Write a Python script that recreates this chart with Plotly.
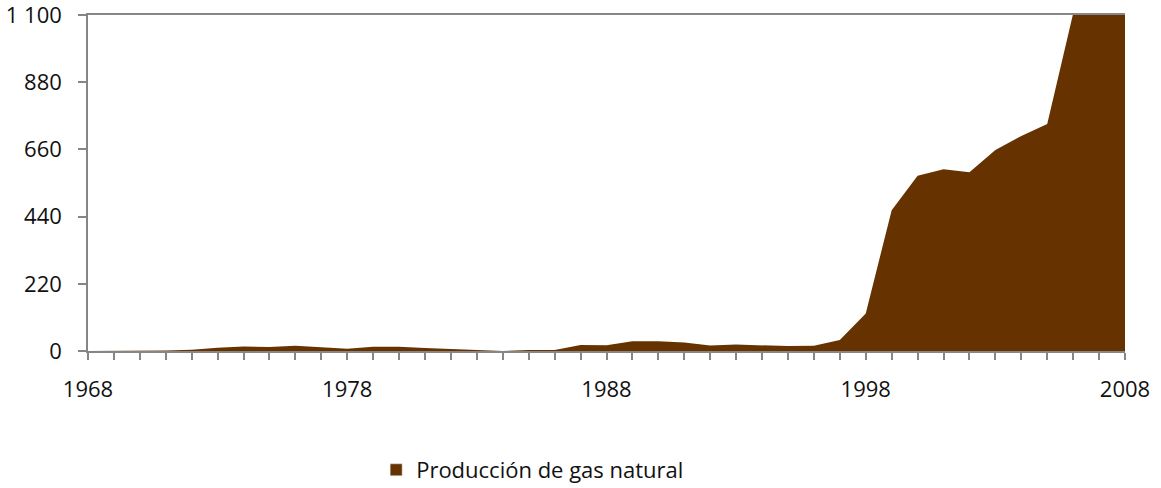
import plotly.graph_objects as go

# production de gas natural, annual values
years = list(range(1968, 2009))
produccion = [
    0, 0, 0, 2, 4, 11, 15, 13, 17, 13,      # 1968-1977
    7, 14, 14, 10, 7, 5, 0, 3, 3, 20,       # 1978-1987
    19, 32, 32, 28, 18, 21, 18, 16, 17, 36, # 1988-1997
    123, 461, 574, 595, 585, 658, 704, 743, # 1998-2005
    1105, 1190, 1230,                       # 2006-2008 (clipped at top)
]

y_ticks = [0, 220, 440, 660, 880, 1100]
y_labels = ["0", "220", "440", "660", "880", "1 100"]
x_ticks = [1968, 1978, 1988, 1998, 2008]

brown = "#663300"
grey = "#868686"
font = dict(family="Open Sans", size=22, color="#111111")

fig = go.Figure()
fig.add_trace(go.Scatter(
    x=years, y=produccion, mode="lines", fill="tozeroy",
    line=dict(color=brown, width=0), fillcolor=brown,
    showlegend=False, legendgroup="gas", hoverinfo="x+y"))
# legend-only entry so the key shows a square swatch
fig.add_trace(go.Bar(
    x=[None], y=[None], name="Producción de gas natural",
    marker=dict(color=brown), legendgroup="gas", showlegend=True))

fig.update_layout(
    width=1161, height=488,
    margin=dict(l=88, r=36, t=15, b=137),
    plot_bgcolor="white", paper_bgcolor="white",
    font=font,
    legend=dict(orientation="h", xref="container", yref="container",
                x=0.3240, xanchor="left", y=0.0369, yanchor="middle",
                font=font, bgcolor="rgba(0,0,0,0)"),
)
fig.update_xaxes(
    range=[1968, 2008], tickvals=x_ticks, showgrid=False, zeroline=False,
    showline=True, linecolor=grey, linewidth=1.5, mirror=True,
    ticks="outside", ticklen=7, tickwidth=1.5, tickcolor=grey,
    minor=dict(dtick=1, tick0=1968, ticks="outside", ticklen=7, tickwidth=1.5,
               tickcolor=grey, showgrid=False),
    ticklabelstandoff=11, automargin=False, ticklabeloverflow="allow",
)
fig.update_yaxes(
    range=[0, 1100], tickvals=y_ticks, ticktext=y_labels,
    showgrid=False, zeroline=False,
    showline=True, linecolor=grey, linewidth=1.5,
    ticks="outside", ticklen=8, tickwidth=1.5, tickcolor=grey,
    ticklabelstandoff=12, automargin=False, ticklabeloverflow="allow",
)

fig.write_html("out.html", config={"displayModeBar": False},
               post_script="document.body.style.margin='0';")
